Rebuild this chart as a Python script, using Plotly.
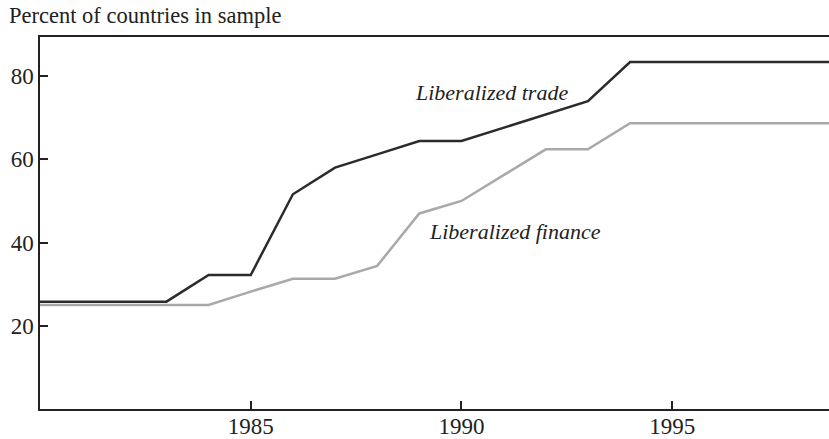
import plotly.graph_objects as go

years = list(range(1980, 1999))
trade = [25.8, 25.8, 25.8, 25.8, 32.2, 32.2, 51.6, 58.0, 61.2, 64.4, 64.4,
         67.6, 70.8, 74.0, 83.4, 83.4, 83.4, 83.4, 83.4]
finance = [25.0, 25.0, 25.0, 25.0, 25.0, 28.2, 31.3, 31.3, 34.4, 47.0, 50.0,
           56.2, 62.4, 62.4, 68.7, 68.7, 68.7, 68.7, 68.7]
# extend to the right edge
years_ext = years + [1999]
trade_ext = trade + [83.4]
finance_ext = finance + [68.7]

x_ticks = [1985, 1990, 1995]
y_ticks = [20, 40, 60, 80]
labels = ["Liberalized trade", "Liberalized finance"]
label_x = [1990.72, 1991.27]
label_y = [76.0, 42.7]

FONT = "Liberation Serif"

W, H = 829, 439
L, T, B = 40, 37, 30
PH = H - T - B

fig = go.Figure()
fig.add_trace(go.Scatter(x=years_ext, y=finance_ext, mode="lines",
                         line=dict(color="#a9a9a9", width=2.5), showlegend=False))
fig.add_trace(go.Scatter(x=years_ext, y=trade_ext, mode="lines",
                         line=dict(color="#2b2b2b", width=2.5), showlegend=False))

for t, xx, yy in zip(labels, label_x, label_y):
    fig.add_annotation(x=xx, y=yy, text="<i>" + t + "</i>", showarrow=False,
                       font=dict(family=FONT, size=22, color="#222"))

fig.add_annotation(xref="paper", yref="paper", x=-(L - 7) / (W - L), y=1 + 22 / PH,
                   xanchor="left", yanchor="middle", showarrow=False,
                   text="Percent of countries in sample",
                   font=dict(family=FONT, size=22.5, color="#222"))

fig.update_layout(
    width=W, height=H,
    margin=dict(l=L, r=0, t=T, b=B, pad=0),
    paper_bgcolor="white", plot_bgcolor="white",
    font=dict(family=FONT, size=23, color="#222"),
    xaxis=dict(range=[1980, 1998.72], tickvals=x_ticks, ticks="inside", ticklen=8,
               tickwidth=1.5, tickcolor="#222", showline=True, linecolor="#222",
               linewidth=1.5, mirror=True, showgrid=False, zeroline=False,
               automargin=False, ticklabelstandoff=-4),
    yaxis=dict(range=[0, 89.4], tickvals=y_ticks, ticks="inside", ticklen=8,
               tickwidth=1.5, tickcolor="#222", showline=True, linecolor="#222",
               linewidth=1.5, showgrid=False, zeroline=False, automargin=False,
               ticklabelstandoff=0),
)

fig.write_html("out.html", config={"displayModeBar": False},
               post_script="document.body.style.margin='0px';document.body.style.overflow='hidden';")
